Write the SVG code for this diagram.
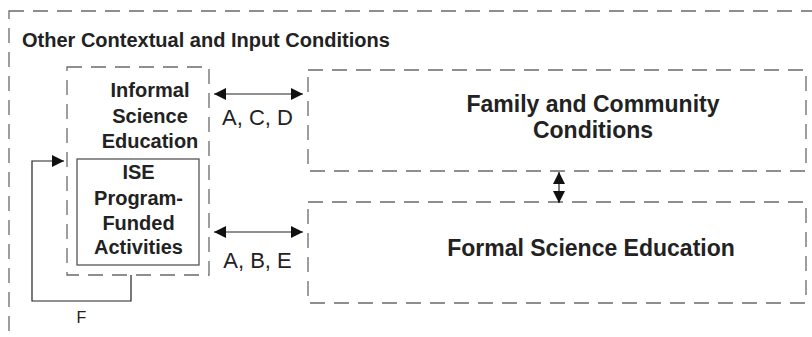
<svg xmlns="http://www.w3.org/2000/svg" width="812" height="337" viewBox="0 0 812 337">
<style>
.dash{fill:none;stroke:#6a6a6a;stroke-width:1.3;stroke-dasharray:15 9}
.solid{fill:none;stroke:#555;stroke-width:1.3}
.conn{fill:none;stroke:#222;stroke-width:1.2}
.b{font-family:"Liberation Sans",Arial,sans-serif;font-weight:bold;fill:#222}
.r{font-family:"Liberation Sans",Arial,sans-serif;fill:#222}
</style>
<defs>
<marker id="ah" viewBox="0 0 12 12" refX="12" refY="6" markerWidth="12" markerHeight="12" markerUnits="userSpaceOnUse" orient="auto-start-reverse">
<path d="M0,0 L12,6 L0,12 Z" fill="#111"/>
</marker>
</defs>
<rect fill="#fff" width="812" height="337"/>
<g id="outer">
<rect class="dash" x="9" y="11" width="900" height="400"/>
<text class="b" x="22" y="47" font-size="20">Other Contextual and Input Conditions</text>
</g>
<g id="informal">
<rect class="dash" x="67" y="67" width="142" height="208"/>
<text class="b" x="150" y="97" font-size="20" text-anchor="middle">Informal</text>
<text class="b" x="150" y="123" font-size="20" text-anchor="middle">Science</text>
<text class="b" x="150" y="148" font-size="20" text-anchor="middle">Education</text>
</g>
<g id="ise">
<rect class="solid" x="77" y="159" width="122" height="106"/>
<text class="b" x="138.5" y="179" font-size="20" text-anchor="middle">ISE</text>
<text class="b" x="138.5" y="205" font-size="20" text-anchor="middle">Program-</text>
<text class="b" x="138.5" y="230" font-size="20" text-anchor="middle">Funded</text>
<text class="b" x="138.5" y="254" font-size="20" text-anchor="middle">Activities</text>
</g>
<g id="family">
<rect class="dash" x="308" y="70" width="498" height="101"/>
<text class="b" x="593" y="112" font-size="23" text-anchor="middle">Family and Community</text>
<text class="b" x="593" y="138" font-size="23" text-anchor="middle">Conditions</text>
</g>
<g id="formal">
<rect class="dash" x="308" y="202" width="498" height="101"/>
<text class="b" x="591" y="256" font-size="23" text-anchor="middle">Formal Science Education</text>
</g>
<g id="connectors">
<line class="conn" x1="214" y1="94" x2="303" y2="94" marker-start="url(#ah)" marker-end="url(#ah)"/>
<text class="r" x="257.5" y="125" font-size="22" text-anchor="middle">A, C, D</text>
<line class="conn" x1="214" y1="232" x2="303" y2="232" marker-start="url(#ah)" marker-end="url(#ah)"/>
<text class="r" x="257.5" y="268" font-size="22" text-anchor="middle">A, B, E</text>
<line class="conn" x1="559" y1="172" x2="559" y2="203" marker-start="url(#ah)" marker-end="url(#ah)"/>
<polyline class="conn" points="131,275 131,301 32,301 32,161 64,161" marker-end="url(#ah)"/>
<text class="r" x="81.5" y="323" font-size="16" text-anchor="middle">F</text>
</g>
</svg>
